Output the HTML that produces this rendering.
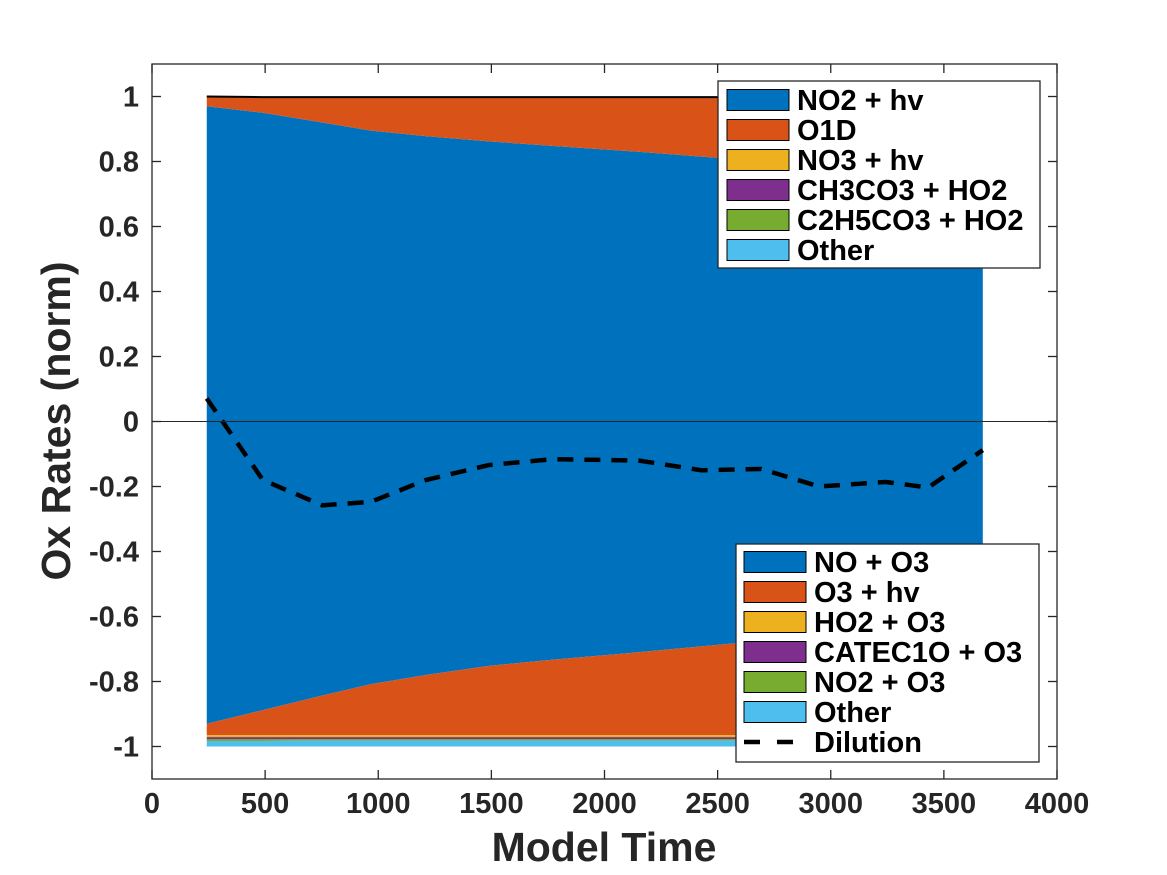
<!DOCTYPE html>
<html><head><meta charset="utf-8"><style>
body{margin:0;background:#fff;}
svg{display:block;font-family:"Liberation Sans",sans-serif;font-weight:bold;}
</style></head><body>
<svg id="chart" width="1167" height="875" viewBox="0 0 1167 875" xmlns="http://www.w3.org/2000/svg">
<rect width="1167" height="875" fill="#fff"/>
<g id="areas"></g>
<g id="axes"></g>
<g id="legends"></g>
</svg>
<script>
const times = [242, 490, 753, 968, 1210, 1489, 1768, 2149, 2428, 2693, 2949, 3241, 3431, 3672];
const posNames = ["NO2 + hv","O1D","NO3 + hv","CH3CO3 + HO2","C2H5CO3 + HO2","Other"];
const posColors = ["#0072BD","#D95319","#EDB120","#7E2F8E","#77AC30","#4DBEEE"];
const posNO2hv = [0.970,0.950,0.920,0.895,0.878,0.862,0.848,0.830,0.815,0.802,0.790,0.777,0.768,0.756];
const posO1D   = [0.028,0.046,0.076,0.101,0.118,0.134,0.148,0.166,0.181,0.194,0.206,0.219,0.228,0.240];
const posNO3hv = [0.001,0.001,0.001,0.001,0.001,0.001,0.001,0.001,0.001,0.001,0.001,0.001,0.001,0.001];
const posCH3CO3 = [0.0005,0.0005,0.0005,0.0005,0.0005,0.0005,0.0005,0.0005,0.0005,0.0005,0.0005,0.0005,0.0005,0.0005];
const posC2H5CO3 = [0.0003,0.0003,0.0003,0.0003,0.0003,0.0003,0.0003,0.0003,0.0003,0.0003,0.0003,0.0003,0.0003,0.0003];
const posOther = [0.0002,0.0002,0.0002,0.0002,0.0002,0.0002,0.0002,0.0002,0.0002,0.0002,0.0002,0.0002,0.0002,0.0002];
const negNames = ["NO + O3","O3 + hv","HO2 + O3","CATEC1O + O3","NO2 + O3","Other"];
const negNOO3  = [-0.930,-0.888,-0.843,-0.808,-0.780,-0.752,-0.733,-0.710,-0.692,-0.675,-0.660,-0.645,-0.635,-0.622];
const negO3hv  = [-0.035,-0.077,-0.122,-0.157,-0.185,-0.213,-0.232,-0.255,-0.273,-0.290,-0.305,-0.320,-0.330,-0.343];
const negHO2O3 = [-0.006,-0.006,-0.006,-0.006,-0.006,-0.006,-0.006,-0.006,-0.006,-0.006,-0.006,-0.006,-0.006,-0.006];
const negCATEC = [-0.006,-0.006,-0.006,-0.006,-0.006,-0.006,-0.006,-0.006,-0.006,-0.006,-0.006,-0.006,-0.006,-0.006];
const negNO2O3 = [-0.006,-0.006,-0.005,-0.005,-0.005,-0.005,-0.005,-0.005,-0.005,-0.005,-0.005,-0.005,-0.005,-0.005];
const negOther = [-0.017,-0.017,-0.018,-0.018,-0.018,-0.018,-0.018,-0.018,-0.018,-0.018,-0.018,-0.018,-0.018,-0.018];
const dilution = [0.071,-0.180,-0.258,-0.247,-0.180,-0.134,-0.116,-0.120,-0.150,-0.146,-0.200,-0.186,-0.203,-0.088];
const xTicks = [0,500,1000,1500,2000,2500,3000,3500,4000];
const yTicks = [-1,-0.8,-0.6,-0.4,-0.2,0,0.2,0.4,0.6,0.8,1];

const NS="http://www.w3.org/2000/svg";
const L=152,R=1057,T=64,B=779;
const xs=t=>L+(t-0)/4000*(R-L);
const ys=v=>421.5-v*325;
function mk(tag,attrs,parent){const e=document.createElementNS(NS,tag);for(const k in attrs)e.setAttribute(k,attrs[k]);parent.appendChild(e);return e;}
const areas=document.getElementById('areas');
function stack(series,colors,names,prefix){
  let base=times.map(()=>0);
  series.forEach((s,i)=>{
    const top=base.map((b,j)=>b+s[j]);
    let d='M'+times.map((t,j)=>xs(t)+','+ys(top[j])).join('L');
    d+='L'+times.map((t,j)=>j).reverse().map(j=>xs(times[j])+','+ys(base[j])).join('L')+'Z';
    const p=mk('path',{d:d,fill:colors[i],stroke:'none'},areas);
    
    
    base=top;
  });
}
stack([posNO2hv,posO1D,posNO3hv,posCH3CO3,posC2H5CO3,posOther],posColors,posNames,'pos');
stack([negNOO3,negO3hv,negHO2O3,negCATEC,negNO2O3,negOther],posColors,negNames,'neg');
const tot=times.map((t,j)=>posNO2hv[j]+posO1D[j]+posNO3hv[j]+posCH3CO3[j]+posC2H5CO3[j]+posOther[j]);
const edge=mk('polyline',{points:times.map((t,j)=>xs(t)+','+ys(tot[j])).join(' '),fill:'none',stroke:'#000','stroke-width':2},areas);


const axes=document.getElementById('axes');
const zl=mk('line',{x1:L,x2:R,y1:ys(0),y2:ys(0),stroke:'#262626','stroke-width':1},axes);


const dl=mk('polyline',{points:times.map((t,j)=>xs(t)+','+ys(dilution[j])).join(' '),fill:'none',stroke:'#000','stroke-width':4.5,'stroke-dasharray':'16,11'},areas);


const fr=mk('rect',{x:L,y:T,width:R-L,height:B-T,fill:'none',stroke:'#262626','stroke-width':1.3},axes);


xTicks.forEach(t=>{
  const x=xs(t);
  mk('line',{x1:x,x2:x,y1:B,y2:B-9,stroke:'#262626','stroke-width':1.3},axes);
  mk('line',{x1:x,x2:x,y1:T,y2:T+9,stroke:'#262626','stroke-width':1.3},axes);
  const tx=mk('text',{x:x,y:B+34,'text-anchor':'middle','font-size':29,fill:'#262626'},axes);
  tx.textContent=String(t);
  
  
});
yTicks.forEach(v=>{
  const y=ys(v);
  mk('line',{x1:L,x2:L+9,y1:y,y2:y,stroke:'#262626','stroke-width':1.3},axes);
  mk('line',{x1:R,x2:R-9,y1:y,y2:y,stroke:'#262626','stroke-width':1.3},axes);
  const tx=mk('text',{x:L-13,y:y+10,'text-anchor':'end','font-size':29,fill:'#262626'},axes);
  tx.textContent=String(Math.round(v*10)/10);
  
  
});
const xt=mk('text',{x:604,y:861,'text-anchor':'middle','font-size':41,fill:'#262626'},axes);
xt.textContent='Model Time';


const yt=mk('text',{x:0,y:0,'text-anchor':'middle','font-size':41,fill:'#262626',transform:'translate(70,421) rotate(-90)'},axes);
yt.textContent='Ox Rates (norm)';


const lg=document.getElementById('legends');
function legend(x,y,w,h,names,sx,tx,y0,dash){
  const b=mk('rect',{x:x,y:y,width:w,height:h,fill:'#fff',stroke:'#262626','stroke-width':1.3},lg);
  
  
  names.forEach((n,i)=>{
    const cy=y0+i*30;
    const r=mk('rect',{x:sx,y:cy-10.5,width:62,height:21,fill:posColors[i],stroke:'#000','stroke-width':1},lg);
    
    
    const t=mk('text',{x:tx,y:cy+10,'font-size':29,fill:'#000'},lg);
    t.textContent=n;
    
    
  });
  if(dash){
    const cy=y0+names.length*30;
    const ln=mk('line',{x1:sx,x2:sx+62,y1:cy,y2:cy,stroke:'#000','stroke-width':4.5,'stroke-dasharray':'16,17'},lg);
    
    
    const t=mk('text',{x:tx,y:cy+10,'font-size':29,fill:'#000'},lg);
    t.textContent='Dilution';
    
    
  }
}
legend(718,81,322,187,posNames,727,797,100,false);
legend(736,544,303,218,negNames,744,814,562,true);
</script>
</body></html>
